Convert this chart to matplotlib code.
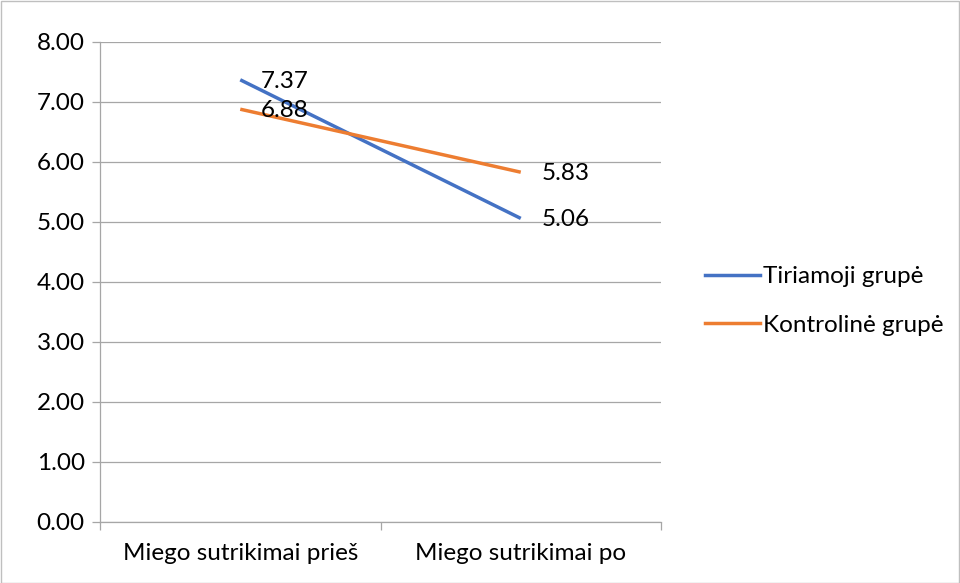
import matplotlib.pyplot as plt
from matplotlib.lines import Line2D
from matplotlib.patches import Rectangle

# Données
categories = ["Miego sutrikimai prieš", "Miego sutrikimai po"]
tiriamoji  = [7.37, 5.06]
kontroline = [6.88, 5.83]
series_names = ["Tiriamoji grupė", "Kontrolinė grupė"]
yticks = [0, 1, 2, 3, 4, 5, 6, 7, 8]

BLUE   = "#4472C4"
ORANGE = "#ED7D31"
GRID   = "#A6A6A6"
FS     = 17.5

plt.rcParams['font.family'] = ['Lato', 'DejaVu Sans']

fig = plt.figure(figsize=(9.6, 5.83), dpi=100)
# Zone du graphique en pixels : x 100-661, y 42-522
W, H = 960, 583
ax = fig.add_axes([100 / W, 1 - 522 / H, 561 / W, 480 / H])

x = [0.5, 1.5]
ax.plot(x, tiriamoji, color=BLUE, lw=2.5, solid_capstyle='butt', zorder=3)
ax.plot(x, kontroline, color=ORANGE, lw=2.5, solid_capstyle='butt', zorder=3)

for serie in (tiriamoji, kontroline):
    for xi, v in zip(x, serie):
        ax.annotate(f"{v:.2f}", (xi, v), xytext=(15, -1), textcoords='offset points',
                    ha='left', va='center', fontsize=FS, color='black', zorder=4)

ax.set_xlim(0, 2)
ax.set_ylim(0, 8)
ax.set_yticks(yticks)
ax.set_yticklabels([f"{t:.2f}" for t in yticks], fontsize=FS)
ax.yaxis.grid(True, color=GRID, lw=0.9)
ax.set_axisbelow(True)

ax.set_xticks([0, 1, 2])
ax.set_xticklabels([])
ax.set_xticks(x, minor=True)
ax.set_xticklabels(categories, minor=True, fontsize=FS)
ax.tick_params(axis='x', which='minor', length=0, pad=15)
ax.tick_params(axis='x', which='major', length=6, color=GRID, width=0.9)
ax.tick_params(axis='y', length=6, color=GRID, width=0.9, pad=5)

for s in ['top', 'right']:
    ax.spines[s].set_visible(False)
ax.spines['left'].set_color(GRID)
ax.spines['bottom'].set_color(GRID)
ax.spines['left'].set_linewidth(0.9)
ax.spines['bottom'].set_linewidth(0.9)

handles = [Line2D([0], [0], color=BLUE, lw=2.5),
           Line2D([0], [0], color=ORANGE, lw=2.5)]
fig.legend(handles, series_names, loc='center left',
           bbox_to_anchor=(705 / W, 1 - 301 / H), frameon=False,
           fontsize=FS, handlelength=2.25, handletextpad=0.12, labelspacing=1.15,
           borderaxespad=0, borderpad=0)

# Bordure du graphique
fig.patches.append(Rectangle((0.5 / W, 0.5 / H), 1 - 1.5 / W, 1 - 1.5 / H,
                             transform=fig.transFigure, fill=False,
                             edgecolor="#BFBFBF", lw=1))

fig.savefig("out.png", dpi=100)
